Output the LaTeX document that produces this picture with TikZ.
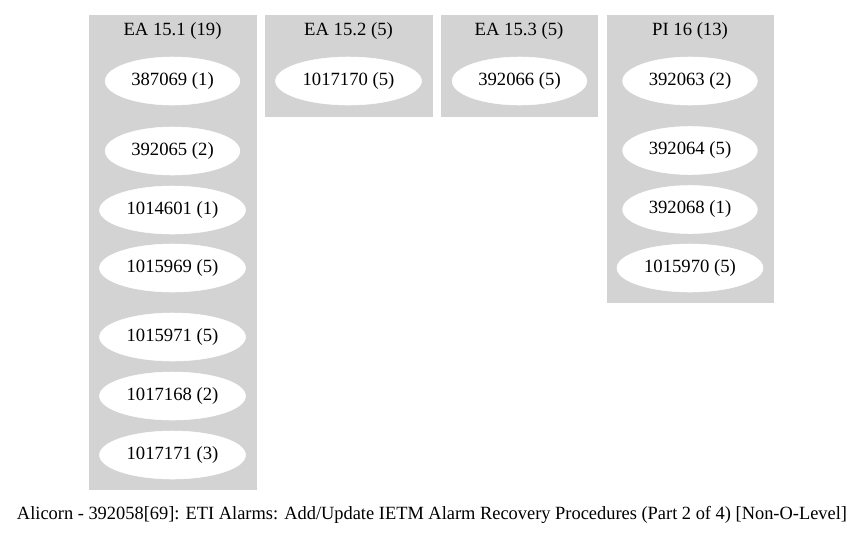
\documentclass[tikz,border=0pt]{standalone}
\usepackage{fontspec}
\setmainfont{Liberation Serif}
\usetikzlibrary{shapes.geometric}
\definecolor{clustergray}{RGB}{211,211,211}
\begin{document}
\begin{tikzpicture}[x=0.75pt,y=-0.75pt,
  every node/.style={font=\fontsize{14}{16}\selectfont, text=black},
  clusterbox/.style={fill=clustergray, draw=clustergray},
  item/.style={ellipse, fill=white, draw=white, inner sep=0pt, minimum height=36pt},
  short/.style={item, minimum width=101pt},
  long/.style={item, minimum width=109.5pt}]
\useasboundingbox (0,0) rectangle (863,536);
\fill[white] (0,0) rectangle (863,536);

% cluster backgrounds
\path[clusterbox] (89,15) rectangle (256,489);
\path[clusterbox] (265,15) rectangle (432,116);
\path[clusterbox] (441,15) rectangle (597,116);
\path[clusterbox] (607,15) rectangle (773,302);

% cluster titles
\node (t1) at (172.5,31) {EA 15.1 (19)};
\node (t2) at (348.5,31) {EA 15.2 (5)};
\node (t3) at (519,31) {EA 15.3 (5)};
\node (t4) at (690,31) {PI 16 (13)};

% EA 15.1
\node[short] (n387069)  at (172.5,81)  {387069 (1)};
\node[short] (n392065)  at (172.5,151) {392065 (2)};
\node[long]  (n1014601) at (172.5,210) {1014601 (1)};
\node[long]  (n1015969) at (172.5,268) {1015969 (5)};
\node[long]  (n1015971) at (172.5,337) {1015971 (5)};
\node[long]  (n1017168) at (172.5,396) {1017168 (2)};
\node[long]  (n1017171) at (172.5,455) {1017171 (3)};

% EA 15.2
\node[long]  (n1017170) at (348.5,81) {1017170 (5)};

% EA 15.3
\node[short] (n392066)  at (519.5,81) {392066 (5)};

% PI 16
\node[short] (n392063)  at (690,81)    {392063 (2)};
\node[short] (n392064)  at (690,150.5) {392064 (5)};
\node[short] (n392068)  at (690,209.5) {392068 (1)};
\node[long]  (n1015970) at (690,268)   {1015970 (5)};

% graph caption
\node[xscale=0.986] (caption) at (432,515) {Alicorn - 392058[69]: ETI Alarms: Add/Update IETM Alarm Recovery Procedures (Part 2 of 4) [Non-O-Level]};
\end{tikzpicture}
\end{document}
